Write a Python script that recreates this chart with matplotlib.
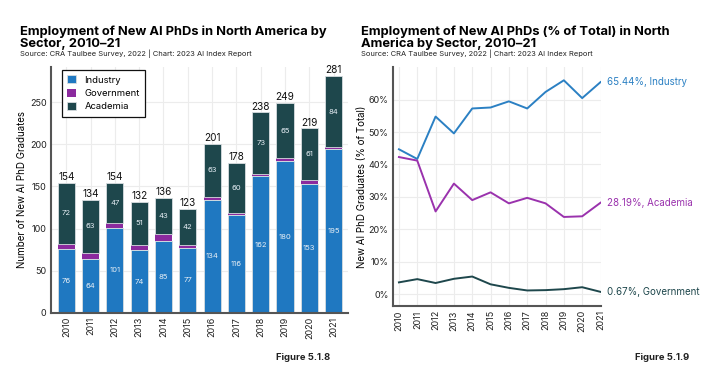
import matplotlib
matplotlib.use("Agg")
import matplotlib.pyplot as plt
import numpy as np

plt.rcParams['font.family'] = ['Inter', 'DejaVu Sans']

# data
years = [2010, 2011, 2012, 2013, 2014, 2015, 2016, 2017, 2018, 2019, 2020, 2021]
industry = [76, 64, 101, 74, 85, 77, 134, 116, 162, 180, 153, 195]
academia = [72, 63, 47, 51, 43, 42, 63, 60, 73, 65, 61, 84]
totals = [154, 134, 154, 132, 136, 123, 201, 178, 238, 249, 219, 281]
government = [t - i - a for t, i, a in zip(totals, industry, academia)]

ind_pct = [44.7, 41.7, 54.8, 49.6, 57.3, 57.6, 59.5, 57.3, 62.4, 66.0, 60.5, 65.44]
aca_pct = [42.3, 41.2, 25.5, 34.1, 29.0, 31.4, 28.0, 29.7, 28.0, 23.8, 24.0, 28.19]
gov_pct = [3.6, 4.6, 3.4, 4.7, 5.4, 3.0, 1.9, 1.1, 1.2, 1.5, 2.1, 0.67]

c_ind = '#1f78c1'
c_gov = '#8b2a9e'
c_aca = '#1e474c'
c_ind_line = '#2b80c3'
c_aca_line = '#9a32ad'
grid_c = '#ececec'
spine_c = '#555555'

W, H = 717, 381
fig = plt.figure(figsize=(W / 100, H / 100), dpi=100)


def px_axes(x0, y0, x1, y1):
    # axes from pixel box (top-left origin)
    return fig.add_axes([x0 / W, 1 - y1 / H, (x1 - x0) / W, (y1 - y0) / H])


def style(ax):
    for s in ['top', 'right']:
        ax.spines[s].set_visible(False)
    for s in ['left', 'bottom']:
        ax.spines[s].set_color(spine_c)
        ax.spines[s].set_linewidth(1.5)
    ax.grid(True, color=grid_c, lw=0.8)
    ax.set_axisbelow(True)
    ax.tick_params(length=0, labelsize=6.5, pad=3, colors='#222222')


# ---- left: stacked bars ----
ax1 = px_axes(50.7, 67, 347.7, 312.7)
style(ax1)
x = np.arange(len(years))
w = 0.7
ax1.bar(x, industry, w, color=c_ind, edgecolor='#d8dde0', lw=0.6, label='Industry')
ax1.bar(x, government, w, bottom=industry, color=c_gov, edgecolor='none', label='Government')
bot = [i + g for i, g in zip(industry, government)]
ax1.bar(x, academia, w, bottom=bot, color=c_aca, edgecolor='#d8dde0', lw=0.6, label='Academia')

for xi, i, a, b, t in zip(x, industry, academia, bot, totals):
    ax1.text(xi, i / 2, str(i), ha='center', va='center', fontsize=5.5, color='#e6eef5')
    ax1.text(xi, b + a / 2, str(a), ha='center', va='center', fontsize=5.5, color='#e6eef5')
    ax1.text(xi, t + 1, str(t), ha='center', va='bottom', fontsize=7.2, color='#111111')

ax1.set_xlim(-0.64, 11.58)
ax1.set_ylim(0, 292)
ax1.set_yticks([0, 50, 100, 150, 200, 250])
ax1.set_xticks(x)
ax1.set_xticklabels(years, rotation=90)
ax1.set_ylabel('Number of New AI PhD Graduates', fontsize=7, labelpad=2)
leg = ax1.legend(loc='upper left', bbox_to_anchor=(0.021, 1.008), fontsize=6.8,
                 frameon=True, fancybox=False, edgecolor='#111111', framealpha=1,
                 handlelength=0.9, handleheight=0.9, borderpad=0.6, labelspacing=0.45,
                 handletextpad=0.9)
leg.get_frame().set_linewidth(0.9)

# ---- right: share lines ----
ax2 = px_axes(392.7, 66.7, 600.5, 306)
style(ax2)
ax2.plot(years, ind_pct, color=c_ind_line, lw=1.4)
ax2.plot(years, aca_pct, color=c_aca_line, lw=1.4)
ax2.plot(years, gov_pct, color=c_aca, lw=1.4)
ax2.set_xlim(2009.66, 2021)
ax2.set_ylim(-3.7, 70.2)
ax2.set_xticks(years)
ax2.set_xticklabels(years, rotation=90)
ax2.set_yticks(range(0, 70, 10))
ax2.set_yticklabels([f'{v}%' for v in range(0, 70, 10)])
ax2.set_ylabel('New AI PhD Graduates (% of Total)', fontsize=7, labelpad=1)

for vals, name, c in [(ind_pct, 'Industry', c_ind_line), (aca_pct, 'Academia', c_aca_line),
                      (gov_pct, 'Government', c_aca)]:
    ax2.annotate(f'{vals[-1]:.2f}%, {name}', (years[-1], vals[-1]), xytext=(5, 0),
                 textcoords='offset points', va='center', ha='left', fontsize=7, color=c,
                 annotation_clip=False)

# ---- titles / notes ----
fig.text(20 / W, 1 - 47 / H, 'Employment of New AI PhDs in North America by\nSector, 2010–21',
         fontsize=9.3, fontweight='bold', va='baseline', ha='left', linespacing=0.95)
fig.text(20 / W, 1 - 56 / H, 'Source: CRA Taulbee Survey, 2022 | Chart: 2023 AI Index Report',
         fontsize=5.4, va='baseline', ha='left', color='#222222')
fig.text(361 / W, 1 - 47 / H, 'Employment of New AI PhDs (% of Total) in North\nAmerica by Sector, 2010–21',
         fontsize=9.3, fontweight='bold', va='baseline', ha='left', linespacing=0.95)
fig.text(361 / W, 1 - 56 / H, 'Source: CRA Taulbee Survey, 2022 | Chart: 2023 AI Index Report',
         fontsize=5.4, va='baseline', ha='left', color='#222222')
fig.text(330 / W, 1 - 360 / H, 'Figure 5.1.8', fontsize=6.8, fontweight='bold', ha='right',
         va='baseline', color='#222222')
fig.text(689 / W, 1 - 360 / H, 'Figure 5.1.9', fontsize=6.8, fontweight='bold', ha='right',
         va='baseline', color='#222222')

fig.savefig('out.png', dpi=100)
